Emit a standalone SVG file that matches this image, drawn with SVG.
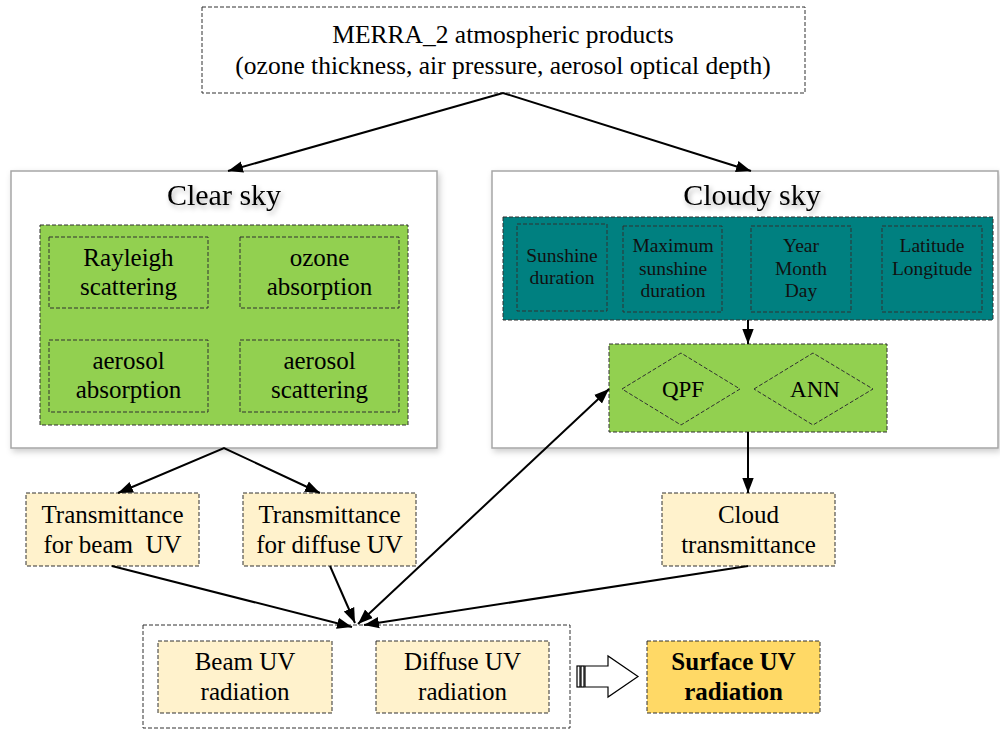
<svg xmlns="http://www.w3.org/2000/svg" width="1000" height="731" viewBox="0 0 1000 731">
<defs>
<style>
text{font-family:"Liberation Serif","DejaVu Serif",serif;fill:#000;text-anchor:middle}
.t22{font-size:25px}
.top{font-size:25.5px}
.t17{font-size:19.5px;fill:#111}
.dia{font-size:23px}
.title{font-size:30px}
.bold{font-weight:bold;font-size:25px}
.dash{stroke:#303030;stroke-width:1;stroke-dasharray:4 2}
.lt{fill:#FFF2CC}
.gr{fill:#92D050}
.conn{stroke:#000;stroke-width:2;fill:none}
.outer{fill:#fff;stroke:#a6a6a6;stroke-width:1.5}
</style>
<marker id="ahs" viewBox="0 0 10 10" refX="10" refY="5" markerWidth="15" markerHeight="15" markerUnits="userSpaceOnUse" orient="auto-start-reverse">
<path d="M0,1.2 L10,5 L0,8.8 z" fill="#000"/>
</marker>
<filter id="sh" x="-10%" y="-10%" width="130%" height="130%">
<feDropShadow dx="2" dy="3" stdDeviation="3" flood-color="#000" flood-opacity="0.2"/>
</filter>
<filter id="tsh" x="-20%" y="-30%" width="140%" height="170%">
<feDropShadow dx="2" dy="3" stdDeviation="2.5" flood-color="#000" flood-opacity="0.3"/>
</filter>
</defs>
<rect width="1000" height="731" fill="#fff"/>

<g id="merra">
<rect x="202" y="7" width="603" height="86" fill="#fff" class="dash"/>
<text class="top" x="503" y="43">MERRA_2 atmospheric products</text>
<text class="top" x="503" y="74">(ozone thickness, air pressure, aerosol optical depth)</text>
</g>

<g id="clear-sky">
<rect x="11" y="171" width="426" height="277" class="outer" filter="url(#sh)"/>
<text class="title" x="224" y="205" filter="url(#tsh)">Clear sky</text>
<rect x="40" y="225" width="368" height="200" class="gr dash"/>
<g id="rayleigh"><rect x="49" y="237" width="159" height="71" class="gr dash"/>
<text class="t22" x="128.5" y="266">Rayleigh</text><text class="t22" x="128.5" y="295">scattering</text></g>
<g id="ozone"><rect x="240" y="237" width="159" height="71" class="gr dash"/>
<text class="t22" x="319.5" y="266">ozone</text><text class="t22" x="319.5" y="295">absorption</text></g>
<g id="aerosol-abs"><rect x="49" y="340" width="159" height="72" class="gr dash"/>
<text class="t22" x="128.5" y="369">aerosol</text><text class="t22" x="128.5" y="398">absorption</text></g>
<g id="aerosol-sca"><rect x="240" y="340" width="159" height="72" class="gr dash"/>
<text class="t22" x="319.5" y="369">aerosol</text><text class="t22" x="319.5" y="398">scattering</text></g>
</g>

<g id="cloudy-sky">
<rect x="492" y="171" width="506" height="277" class="outer" filter="url(#sh)"/>
<text class="title" x="752" y="205" filter="url(#tsh)">Cloudy sky</text>
<rect x="503" y="217" width="490" height="103" fill="#008080" class="dash"/>
<g id="sunshine"><rect x="517" y="224" width="90" height="87" fill="none" class="dash"/>
<text class="t17" x="562" y="262">Sunshine</text><text class="t17" x="562" y="284">duration</text></g>
<g id="max-sunshine"><rect x="623" y="226" width="99" height="86" fill="none" class="dash"/>
<text class="t17" x="673" y="252">Maximum</text><text class="t17" x="673" y="275">sunshine</text><text class="t17" x="673" y="297">duration</text></g>
<g id="date"><rect x="751" y="226" width="100" height="86" fill="none" class="dash"/>
<text class="t17" x="801" y="252">Year</text><text class="t17" x="801" y="275">Month</text><text class="t17" x="801" y="297">Day</text></g>
<g id="latlon"><rect x="882" y="226" width="100" height="86" fill="none" class="dash"/>
<text class="t17" x="932" y="252">Latitude</text><text class="t17" x="932" y="275">Longitude</text></g>
<g id="models">
<rect x="609" y="344" width="278" height="88" class="gr dash"/>
<polygon points="622,389 681,353 740,389 681,425" fill="none" stroke="#303030" stroke-dasharray="4 2"/>
<text class="dia" x="683" y="397">QPF</text>
<polygon points="754,389 813,353 873,389 813,425" fill="none" stroke="#303030" stroke-dasharray="4 2"/>
<text class="dia" x="815" y="397">ANN</text>
</g>
</g>

<g id="trans-beam"><rect x="26" y="493" width="173" height="73" class="lt dash"/>
<text class="t22" x="112.5" y="523">Transmittance</text><text class="t22" x="112.5" y="553" xml:space="preserve">for beam  UV</text></g>
<g id="trans-diffuse"><rect x="243" y="493" width="173" height="73" class="lt dash"/>
<text class="t22" x="329.5" y="523">Transmittance</text><text class="t22" x="329.5" y="553">for diffuse UV</text></g>
<g id="cloud-trans"><rect x="662" y="493" width="173" height="73" class="lt dash"/>
<text class="t22" x="748.5" y="523">Cloud</text><text class="t22" x="748.5" y="553">transmittance</text></g>

<g id="uv-components">
<rect x="143" y="625" width="427" height="103" fill="#fff" stroke="#303030" stroke-dasharray="4 2"/>
<g id="beam-uv"><rect x="158" y="641" width="174" height="72" class="lt dash"/>
<text class="t22" x="245" y="670">Beam UV</text><text class="t22" x="245" y="700">radiation</text></g>
<g id="diffuse-uv"><rect x="376" y="641" width="173" height="72" class="lt dash"/>
<text class="t22" x="462.5" y="670">Diffuse UV</text><text class="t22" x="462.5" y="700">radiation</text></g>
</g>

<g id="block-arrow" fill="#fff" stroke="#000" stroke-width="1.2">
<rect x="577" y="666" width="3" height="21"/>
<rect x="581" y="666" width="3" height="21"/>
<polygon points="585,666 608,666 608,656 638,676.5 608,697 608,687 585,687"/>
</g>

<g id="surface-uv"><rect x="647" y="641" width="173" height="72" fill="#FFD966" class="dash"/>
<text class="bold" x="733.5" y="670">Surface UV</text><text class="bold" x="733.5" y="700">radiation</text></g>

<g id="connectors">
<line x1="503" y1="93" x2="228" y2="171" class="conn" marker-end="url(#ahs)"/>
<line x1="503" y1="93" x2="751" y2="171" class="conn" marker-end="url(#ahs)"/>
<polyline points="118,493 224,448 320,493" class="conn" marker-start="url(#ahs)" marker-end="url(#ahs)"/>
<line x1="748" y1="320" x2="748" y2="344" class="conn" marker-end="url(#ahs)"/>
<line x1="748" y1="432" x2="748" y2="493" class="conn" marker-end="url(#ahs)"/>
<line x1="358" y1="624" x2="609" y2="389" class="conn" marker-start="url(#ahs)" marker-end="url(#ahs)"/>
<line x1="112" y1="566" x2="352" y2="627" class="conn" marker-end="url(#ahs)"/>
<line x1="330" y1="566" x2="355" y2="623" class="conn" marker-end="url(#ahs)"/>
<line x1="748" y1="566" x2="364" y2="625" class="conn" marker-end="url(#ahs)"/>
</g>
</svg>
